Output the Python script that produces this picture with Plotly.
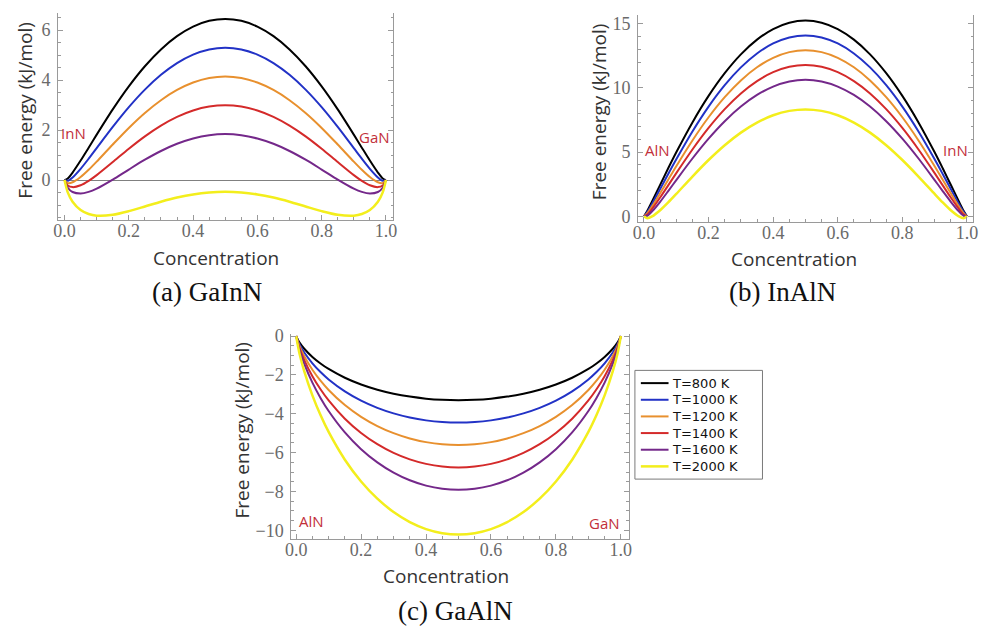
import plotly.graph_objects as go

W, H = 987, 632

# Concentration samples
conc = [0, 0.01, 0.025, 0.05, 0.075, 0.1, 0.15, 0.2, 0.25, 0.3, 0.35, 0.4, 0.45, 0.5,
        0.55, 0.6, 0.65, 0.7, 0.75, 0.8, 0.85, 0.9, 0.925, 0.95, 0.975, 0.99, 1.0]

temps = ["T=800 K", "T=1000 K", "T=1200 K", "T=1400 K", "T=1600 K", "T=2000 K"]
colors = ["#000000", "#2232c6", "#e8902e", "#d42a2a", "#74288a", "#f3ee1c"]

# (a) GaInN free energy (kJ/mol)
a800 = [0, 0.066, 0.301, 0.781, 1.297, 1.819, 2.829, 3.750, 4.555, 5.227, 5.758, 6.141, 6.373, 6.450,
        6.373, 6.141, 5.758, 5.227, 4.555, 3.750, 2.829, 1.819, 1.297, 0.781, 0.301, 0.066, 0]
a1000 = [0, -0.028, 0.106, 0.451, 0.854, 1.279, 2.126, 2.918, 3.620, 4.212, 4.682, 5.022, 5.228, 5.297,
         5.228, 5.022, 4.682, 4.212, 3.620, 2.918, 2.126, 1.279, 0.854, 0.451, 0.106, -0.028, 0]
a1200 = [0, -0.121, -0.088, 0.121, 0.412, 0.738, 1.423, 2.086, 2.685, 3.196, 3.605, 3.903, 4.084, 4.145,
         4.084, 3.903, 3.605, 3.196, 2.685, 2.086, 1.423, 0.738, 0.412, 0.121, -0.088, -0.121, 0]
a1400 = [0, -0.214, -0.282, -0.209, -0.032, 0.198, 0.720, 1.254, 1.750, 2.180, 2.529, 2.784, 2.940, 2.992,
         2.940, 2.784, 2.529, 2.180, 1.750, 1.254, 0.720, 0.198, -0.032, -0.209, -0.282, -0.214, 0]
a1600 = [0, -0.307, -0.477, -0.539, -0.474, -0.343, 0.018, 0.422, 0.815, 1.164, 1.452, 1.665, 1.796, 1.840,
         1.796, 1.665, 1.452, 1.164, 0.815, 0.422, 0.018, -0.343, -0.474, -0.539, -0.477, -0.307, 0]
a2000 = [0, -0.493, -0.866, -1.200, -1.360, -1.424, -1.388, -1.242, -1.056, -0.867, -0.701, -0.573, -0.493, -0.466,
         -0.493, -0.573, -0.701, -0.867, -1.056, -1.242, -1.388, -1.424, -1.360, -1.200, -0.866, -0.493, 0]

# (b) InAlN free energy (kJ/mol)
b800 = [0, 0.414, 1.158, 2.451, 3.737, 4.984, 7.312, 9.376, 11.147, 12.611, 13.757, 14.580, 15.075, 15.240,
        15.075, 14.580, 13.757, 12.611, 11.147, 9.376, 7.312, 4.984, 3.737, 2.451, 1.158, 0.414, 0]
b1000 = [0, 0.321, 0.963, 2.121, 3.294, 4.443, 6.609, 8.544, 10.212, 11.595, 12.681, 13.461, 13.930, 14.087,
         13.930, 13.461, 12.681, 11.595, 10.212, 8.544, 6.609, 4.443, 3.294, 2.121, 0.963, 0.321, 0]
b1200 = [0, 0.227, 0.769, 1.791, 2.851, 3.903, 5.906, 7.712, 9.277, 10.580, 11.604, 12.342, 12.786, 12.935,
         12.786, 12.342, 11.604, 10.580, 9.277, 7.712, 5.906, 3.903, 2.851, 1.791, 0.769, 0.227, 0]
b1400 = [0, 0.134, 0.575, 1.461, 2.408, 3.362, 5.203, 6.880, 8.342, 9.564, 10.528, 11.222, 11.642, 11.782,
         11.642, 11.222, 10.528, 9.564, 8.342, 6.880, 5.203, 3.362, 2.408, 1.461, 0.575, 0.134, 0]
b1600 = [0, 0.041, 0.380, 1.131, 1.965, 2.822, 4.501, 6.048, 7.407, 8.548, 9.451, 10.103, 10.498, 10.630,
         10.498, 10.103, 9.451, 8.548, 7.407, 6.048, 4.501, 2.822, 1.965, 1.131, 0.380, 0.041, 0]
b2000 = [0, -0.145, -0.009, 0.471, 1.079, 1.741, 3.095, 4.383, 5.537, 6.517, 7.298, 7.865, 8.209, 8.324,
         8.209, 7.865, 7.298, 6.517, 5.537, 4.383, 3.095, 1.741, 1.079, 0.471, -0.009, -0.145, 0]

# (c) GaAlN free energy (kJ/mol)
c800 = [0, -0.321, -0.650, -1.072, -1.408, -1.691, -2.143, -2.490, -2.758, -2.963, -3.114, -3.219, -3.280, -3.300,
        -3.280, -3.219, -3.114, -2.963, -2.758, -2.490, -2.143, -1.691, -1.408, -1.072, -0.650, -0.321, 0]
c1000 = [0, -0.414, -0.844, -1.402, -1.851, -2.231, -2.846, -3.322, -3.693, -3.978, -4.191, -4.338, -4.424, -4.453,
         -4.424, -4.338, -4.191, -3.978, -3.693, -3.322, -2.846, -2.231, -1.851, -1.402, -0.844, -0.414, 0]
c1200 = [0, -0.507, -1.039, -1.732, -2.294, -2.772, -3.549, -4.154, -4.628, -4.994, -5.267, -5.457, -5.569, -5.605,
         -5.569, -5.457, -5.267, -4.994, -4.628, -4.154, -3.549, -2.772, -2.294, -1.732, -1.039, -0.507, 0]
c1400 = [0, -0.600, -1.233, -2.062, -2.737, -3.312, -4.252, -4.986, -5.563, -6.010, -6.344, -6.576, -6.713, -6.758,
         -6.713, -6.576, -6.344, -6.010, -5.563, -4.986, -4.252, -3.312, -2.737, -2.062, -1.233, -0.600, 0]
c1600 = [0, -0.693, -1.428, -2.392, -3.180, -3.853, -4.955, -5.818, -6.498, -7.026, -7.421, -7.695, -7.857, -7.911,
         -7.857, -7.695, -7.421, -7.026, -6.498, -5.818, -4.955, -3.853, -3.180, -2.392, -1.428, -0.693, 0]
c2000 = [0, -0.879, -1.816, -3.052, -4.066, -4.934, -6.361, -7.482, -8.368, -9.057, -9.574, -9.933, -10.146, -10.216,
         -10.146, -9.933, -9.574, -9.057, -8.368, -7.482, -6.361, -4.934, -4.066, -3.052, -1.816, -0.879, 0]

panels = [
    dict(series=[a800, a1000, a1200, a1400, a1600, a2000], xa="x", ya="y"),
    dict(series=[b800, b1000, b1200, b1400, b1600, b2000], xa="x2", ya="y2"),
    dict(series=[c800, c1000, c1200, c1400, c1600, c2000], xa="x3", ya="y3"),
]

fig = go.Figure()
for p in panels:
    for name, col, ys in zip(temps, colors, p["series"]):
        fig.add_trace(go.Scatter(
            x=conc, y=ys, mode="lines", name=name,
            line=dict(color=col, width=2.5 if col == "#f3ee1c" else 2, shape="spline", smoothing=0.8),
            xaxis=p["xa"], yaxis=p["ya"], showlegend=False))

AX = "#9a9a9a"
TICKFONT = dict(family="Liberation Serif", size=18, color="#6a6a6a")


def dom_x(l, r):
    return [l / W, r / W]


def dom_y(t, b):
    return [1 - b / H, 1 - t / H]


def xax(domain, rng, anchor):
    return dict(domain=domain, range=rng, anchor=anchor, showline=True, linecolor=AX, linewidth=1,
                ticks="inside", ticklen=5, tickcolor=AX, tick0=0, dtick=0.2, tickformat=".1f",
                minor=dict(dtick=0.05, ticks="inside", ticklen=2.5, tickcolor=AX),
                showgrid=False, zeroline=False, tickfont=TICKFONT, ticklabelstandoff=-5,
                fixedrange=True)


def yax(domain, rng, anchor, dtick, mdtick, zero=False):
    return dict(domain=domain, range=rng, anchor=anchor, showline=True, linecolor=AX, linewidth=1,
                mirror="ticks", ticks="inside", ticklen=5, tickcolor=AX, tick0=0, dtick=dtick,
                minor=dict(dtick=mdtick, ticks="inside", ticklen=2.5, tickcolor=AX),
                showgrid=False, zeroline=zero, zerolinecolor="#808080", zerolinewidth=1,
                tickfont=TICKFONT, ticklabelstandoff=3, fixedrange=True)


fig.update_layout(
    width=W, height=H, margin=dict(l=0, r=0, t=0, b=0),
    paper_bgcolor="white", plot_bgcolor="white",
    xaxis=xax(dom_x(52.7, 391.7), [-0.02, 1.023], "y"),
    yaxis=yax(dom_y(5, 216), [-1.58, 6.69], "x", 2, 0.5, zero=True),
    xaxis2=xax(dom_x(639.3, 978.3), [-0.018, 1.02], "y2"),
    yaxis2=yax(dom_y(6.7, 218.3), [-0.43, 15.71], "x2", 5, 1),
    xaxis3=xax(dom_x(288.5, 630), [-0.015, 1.025], "y3"),
    yaxis3=yax(dom_y(333, 541.7), [-10.42, 0.1], "x3", 2, 0.5),
    showlegend=False,
)

TITLE_FONT = dict(family="Open Sans", size=19, color="#333333")
CAP_FONT = dict(family="Liberation Serif", size=27, color="#111111")
LBL_FONT = dict(family="Open Sans", size=15, color="#c22f3a")
LEG_FONT = dict(family="DejaVu Sans", size=13, color="#111111")


def ann(text, x, y, font, angle=0, xanchor="center"):
    fig.add_annotation(text=text, x=x / W, y=1 - y / H, xref="paper", yref="paper",
                       showarrow=False, font=font, textangle=angle,
                       xanchor=xanchor, yanchor="middle")


# axis titles
ann("Free energy (kJ/mol)", 19, 105, TITLE_FONT, -90)
ann("Free energy (kJ/mol)", 599, 106, TITLE_FONT, -90)
ann("Free energy (kJ/mol)", 239, 431, TITLE_FONT, -90)
ann("Concentration", 212, 255, TITLE_FONT)
ann("Concentration", 797, 256, TITLE_FONT)
ann("Concentration", 445, 580, TITLE_FONT)

# captions
ann("(a) GaInN", 203, 290, CAP_FONT)
ann("(b) InAlN", 785, 290, CAP_FONT)
ann("(c) GaAlN", 455, 616, CAP_FONT)

# end-member labels
ann("InN", 68, 128, LBL_FONT)
ann("GaN", 373, 132, LBL_FONT)
ann("AlN", 659, 145, LBL_FONT)
ann("InN", 960, 145, LBL_FONT)
ann("AlN", 309, 524, LBL_FONT)
ann("GaN", 605, 526, LBL_FONT)

# legend box (compact, as in the reference)
leg_l, leg_t, leg_r, leg_b = 636, 370, 765, 481
fig.add_shape(type="rect", xref="paper", yref="paper",
              x0=leg_l / W, x1=leg_r / W, y0=1 - leg_b / H, y1=1 - leg_t / H,
              line=dict(color="#7a7a7a", width=1), fillcolor="white", layer="above")
for i, (name, col) in enumerate(zip(temps, colors)):
    yc = 383 + i * 17
    fig.add_shape(type="line", xref="paper", yref="paper",
                  x0=642 / W, x1=670 / W, y0=1 - yc / H, y1=1 - yc / H,
                  line=dict(color=col, width=2.5 if col == "#f3ee1c" else 2), layer="above")
    ann(name, 671, yc, LEG_FONT, xanchor="left")

fig.write_html("out.html", config={"displayModeBar": False},
               post_script="document.body.style.margin='0';")
